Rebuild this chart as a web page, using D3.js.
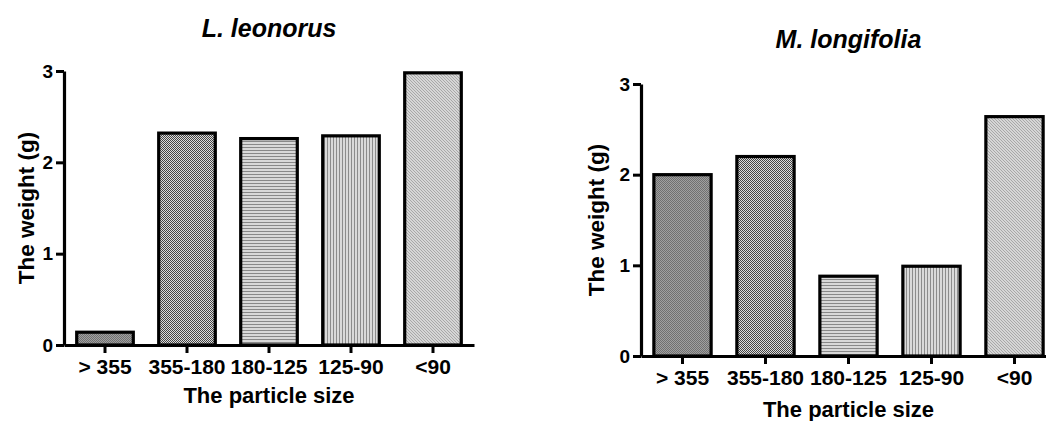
<!DOCTYPE html>
<html>
<head>
<meta charset="utf-8">
<script src="https://cdn.jsdelivr.net/npm/d3@7"></script>
<style>
  body { margin: 0; background: #fff; }
  text { font-family: "Liberation Sans", Arial, sans-serif; font-weight: bold; }
</style>
</head>
<body>
<div id="chart"></div>
<script>
// particle size classes (same for both plants)
const sizes = ["> 355", "355-180", "180-125", "125-90", "<90"];

// weights (g)
const leonorusWeight = [0.14, 2.32, 2.26, 2.29, 2.98];
const longifoliaWeight = [2.00, 2.20, 0.88, 0.99, 2.64];

const yTicks = [0, 1, 2, 3];

const svg = d3.select("#chart").append("svg")
    .attr("width", 1046)
    .attr("height", 421);

// fill patterns, one per size class
const defs = svg.append("defs");

function addPattern(id, w, h, bg, draw) {
    let p = defs.append("pattern")
        .attr("id", id)
        .attr("patternUnits", "userSpaceOnUse")
        .attr("width", w)
        .attr("height", h);
    p.append("rect").attr("width", w).attr("height", h).attr("fill", bg);
    draw(p);
}

// dark fine crosshatch
addPattern("pat0", 2, 2, "#a0a0a0", p => {
    p.append("rect").attr("width", 1).attr("height", 1).attr("fill", "#707070");
    p.append("rect").attr("x", 1).attr("y", 1).attr("width", 1).attr("height", 1).attr("fill", "#707070");
});
// checker dots
addPattern("pat1", 2, 2, "#dcdcdc", p => {
    p.append("rect").attr("width", 1).attr("height", 1).attr("fill", "#444");
    p.append("rect").attr("x", 1).attr("y", 1).attr("width", 1).attr("height", 1).attr("fill", "#444");
});
// horizontal lines
addPattern("pat2", 3, 3, "#d8d8d8", p => {
    p.append("rect").attr("width", 3).attr("height", 1).attr("fill", "#888");
});
// vertical lines
addPattern("pat3", 3, 3, "#dadada", p => {
    p.append("rect").attr("width", 1).attr("height", 3).attr("fill", "#8c8c8c");
});
// light diagonal
addPattern("pat4", 3, 3, "#d6d6d6", p => {
    p.append("rect").attr("x", 0).attr("y", 0).attr("width", 1).attr("height", 1).attr("fill", "#a8a8a8");
    p.append("rect").attr("x", 1).attr("y", 1).attr("width", 1).attr("height", 1).attr("fill", "#a8a8a8");
    p.append("rect").attr("x", 2).attr("y", 2).attr("width", 1).attr("height", 1).attr("fill", "#a8a8a8");
});

function drawChart(cfg) {
    let g = svg.append("g");

    let x = d3.scaleBand()
        .domain(sizes)
        .range([cfg.x0, cfg.x1])
        .paddingInner(0.31)
        .paddingOuter(0.155);

    let y = d3.scaleLinear()
        .domain([0, 3])
        .range([cfg.y0, cfg.y3]);

    // bars
    g.selectAll(".bar")
        .data(cfg.values)
        .enter().append("rect")
        .attr("class", "bar")
        .attr("x", (d, i) => x(sizes[i]))
        .attr("y", d => y(d))
        .attr("width", x.bandwidth())
        .attr("height", d => y(0) - y(d))
        .attr("fill", (d, i) => "url(#pat" + i + ")")
        .attr("stroke", "#000")
        .attr("stroke-width", 3.2);

    // x axis
    let xAxis = g.append("g")
        .attr("transform", "translate(0," + y(0) + ")")
        .call(d3.axisBottom(x).tickSize(8).tickSizeOuter(0).tickPadding(6));
    xAxis.select(".domain").attr("stroke-width", 3.2);
    xAxis.selectAll(".tick line").attr("stroke-width", 3);
    xAxis.selectAll(".tick text")
        .attr("font-size", 21)
        .attr("font-family", "Liberation Sans, Arial")
        .attr("font-weight", "bold")
        .attr("fill", "#000");

    // y axis
    let yAxis = g.append("g")
        .attr("transform", "translate(" + cfg.x0 + ",0)")
        .call(d3.axisLeft(y).tickValues(yTicks).tickFormat(d3.format("d")).tickSize(8).tickSizeOuter(0).tickPadding(3));
    yAxis.select(".domain").attr("stroke-width", 3.2);
    yAxis.selectAll(".tick line").attr("stroke-width", 3);
    yAxis.selectAll(".tick text")
        .attr("font-size", 19)
        .attr("font-family", "Liberation Sans, Arial")
        .attr("font-weight", "bold")
        .attr("fill", "#000");

    // titles
    g.append("text")
        .attr("x", (cfg.x0 + cfg.x1) / 2)
        .attr("y", cfg.titleY)
        .attr("text-anchor", "middle")
        .attr("font-size", 25)
        .attr("font-style", "italic")
        .text(cfg.title);

    g.append("text")
        .attr("x", (cfg.x0 + cfg.x1) / 2)
        .attr("y", cfg.xLabelY)
        .attr("text-anchor", "middle")
        .attr("font-size", 22)
        .text("The particle size");

    g.append("text")
        .attr("transform", "rotate(-90)")
        .attr("x", -(cfg.y0 + cfg.y3) / 2)
        .attr("y", cfg.yLabelX)
        .attr("text-anchor", "middle")
        .attr("font-size", 22.5)
        .text("The weight (g)");
}

drawChart({
    values: leonorusWeight, title: "L. leonorus",
    x0: 64, x1: 474, y0: 345, y3: 71,
    titleY: 37, xLabelY: 403, yLabelX: 34
});

drawChart({
    values: longifoliaWeight, title: "M. longifolia",
    x0: 641, x1: 1056, y0: 356, y3: 84,
    titleY: 48, xLabelY: 417, yLabelX: 604
});
</script>
</body>
</html>
